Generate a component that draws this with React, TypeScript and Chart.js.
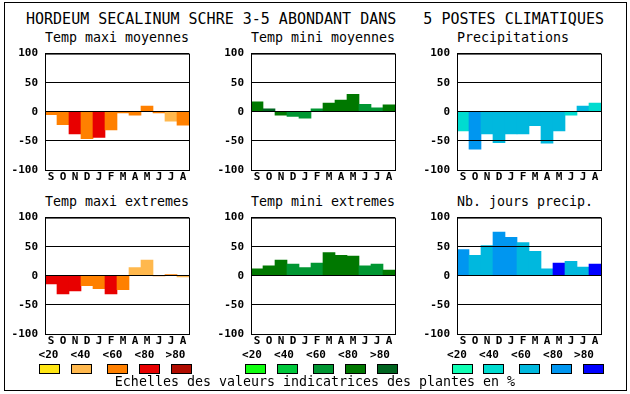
import React, { useEffect, useRef } from 'react';
import { Chart, registerables } from 'chart.js';

Chart.register(...registerables);

// ---------- data ----------
const TITLE = 'HORDEUM SECALINUM SCHRE 3-5 ABONDANT DANS   5 POSTES CLIMATIQUES';
const FOOTER = 'Echelles des valeurs indicatrices des plantes en %';
const MONTHS = ['S', 'O', 'N', 'D', 'J', 'F', 'M', 'A', 'M', 'J', 'J', 'A'];
const Y_TICKS = [-100, -50, 0, 50, 100];
const CLASS_LABELS = ['<20', '<40', '<60', '<80', '>80'];

const RED_SCALE = ['#ffe614', '#ffb84d', '#ff8000', '#e80000', '#b00c00'];
const GREEN_SCALE = ['#10ff10', '#00c83c', '#009632', '#007800', '#006420'];
const BLUE_SCALE = ['#10ffb4', '#00dcd0', '#00b8de', '#0096f0', '#0000ff'];

const TEMP_MAXI_MOY = [-5, -22, -38, -46, -44, -31, -2, -6, 10, -2, -16, -23];
const TEMP_MAXI_MOY_CLASS = [2, 2, 3, 2, 3, 2, 2, 2, 2, 2, 1, 2];

const TEMP_MINI_MOY = [17, 5, -6, -8, -11, 5, 15, 20, 30, 13, 7, 12];
const TEMP_MINI_MOY_CLASS = [3, 4, 3, 2, 2, 2, 3, 3, 3, 2, 2, 3];

const PRECIP = [-33, -64, -38, -53, -38, -38, -24, -54, -33, -6, 10, 15];
const PRECIP_CLASS = [1, 3, 2, 2, 2, 2, 2, 2, 2, 1, 2, 1];

const TEMP_MAXI_EXT = [-14, -31, -26, -17, -22, -31, -24, 14, 27, 0, 2, -2];
const TEMP_MAXI_EXT_CLASS = [3, 3, 3, 2, 2, 3, 2, 1, 1, 2, 2, 1];

const TEMP_MINI_EXT = [12, 17, 27, 20, 14, 22, 40, 35, 34, 17, 20, 10];
const TEMP_MINI_EXT_CLASS = [3, 3, 3, 2, 2, 2, 3, 3, 3, 2, 2, 3];

const NB_JOURS = [45, 35, 52, 75, 66, 57, 42, 12, 22, 25, 15, 20];
const NB_JOURS_CLASS = [3, 2, 2, 3, 3, 2, 2, 2, 4, 2, 2, 4];

// ---------- layout ----------
const MONO = '"DejaVu Sans Mono", monospace';
const PLOT_W = 144;
const PLOT_H = 120;
const AXIS_W = 45;
const PAD_T = 10;
const PAD_R = 10;
const XAX_H = 20;

const framePlugin = {
  id: 'frame',
  afterDraw(chart: any) {
    const { ctx, chartArea } = chart;
    const { left, top, right, bottom } = chartArea;
    ctx.save();
    ctx.strokeStyle = '#000';
    ctx.lineWidth = 1;
    ctx.strokeRect(left + 0.5, top + 0.5, right - left, bottom - top);
    ctx.restore();
  },
};

type PanelProps = {
  title: string;
  values: number[];
  classes: number[];
  palette: string[];
  plotLeft: number;
  plotTop: number;
};

function Panel({ title, values, classes, palette, plotLeft, plotTop }: PanelProps) {
  const ref = useRef<HTMLCanvasElement>(null);
  useEffect(() => {
    const chart = new Chart(ref.current as HTMLCanvasElement, {
      type: 'bar',
      data: {
        labels: MONTHS,
        datasets: [
          {
            data: values,
            backgroundColor: classes.map((c) => palette[c]),
            borderWidth: 0,
            barPercentage: 1,
            categoryPercentage: 1,
          },
        ],
      },
      options: {
        animation: false,
        responsive: false,
        devicePixelRatio: 1,
        layout: { padding: { top: PAD_T, right: PAD_R, left: 0, bottom: 0 } },
        plugins: { legend: { display: false }, tooltip: { enabled: false } },
        scales: {
          x: {
            grid: { display: false, drawTicks: false },
            border: { display: false },
            ticks: {
              color: '#000',
              font: { family: MONO, weight: 'bold', size: 11 },
              padding: 1,
              autoSkip: false,
              maxRotation: 0,
              minRotation: 0,
            },
            afterFit: (s: any) => {
              s.height = XAX_H;
            },
          },
          y: {
            min: -100,
            max: 100,
            afterBuildTicks: (s: any) => {
              s.ticks = Y_TICKS.map((v) => ({ value: v }));
            },
            grid: { color: '#000', lineWidth: 1, drawTicks: false, z: 1 },
            border: { display: false },
            ticks: {
              color: '#000',
              font: { family: MONO, weight: 'bold', size: 11 },
              padding: 7,
            },
            afterFit: (s: any) => {
              s.width = AXIS_W;
            },
          },
        },
      } as any,
      plugins: [framePlugin],
    });
    return () => chart.destroy();
  }, []);
  const cw = AXIS_W + PLOT_W + PAD_R;
  const ch = PAD_T + PLOT_H + XAX_H;
  return (
    <>
      <div
        style={{
          position: 'absolute',
          left: plotLeft,
          top: plotTop - 19.5,
          font: `13.3px ${MONO}`,
          lineHeight: '13.3px',
          whiteSpace: 'pre',
          color: '#000',
        }}
      >
        {title}
      </div>
      <canvas
        ref={ref}
        width={cw}
        height={ch}
        style={{ position: 'absolute', left: plotLeft - AXIS_W, top: plotTop - PAD_T, width: cw, height: ch }}
      />
    </>
  );
}

function Legend({ palette, boxLefts, labelCenters }: { palette: string[]; boxLefts: number[]; labelCenters: number[] }) {
  return (
    <>
      {CLASS_LABELS.map((lab, i) => (
        <div
          key={'l' + i}
          style={{
            position: 'absolute',
            left: labelCenters[i] - 20,
            width: 40,
            textAlign: 'center',
            top: 348.7,
            font: `bold 11px ${MONO}`,
            lineHeight: '11px',
            color: '#000',
            whiteSpace: 'pre',
          }}
        >
          {lab}
        </div>
      ))}
      {palette.map((c, i) => (
        <div
          key={'b' + i}
          style={{
            position: 'absolute',
            left: boxLefts[i],
            top: 364,
            width: 21,
            height: 10,
            boxSizing: 'border-box',
            border: '1px solid #000',
            background: c,
          }}
        />
      ))}
    </>
  );
}

export default function App() {
  return (
    <div
      style={{
        position: 'fixed',
        left: 0,
        top: 0,
        width: 630,
        height: 394,
        background: '#fff',
        overflow: 'hidden',
      }}
    >
      <div
        style={{
          position: 'absolute',
          left: 4,
          top: 2,
          width: 623,
          height: 389,
          boxSizing: 'border-box',
          border: '1px solid #000',
        }}
      />
      <div
        style={{
          position: 'absolute',
          left: 26,
          top: 11.5,
          font: `15px ${MONO}`,
          lineHeight: '15px',
          whiteSpace: 'pre',
          color: '#000',
        }}
      >
        {TITLE}
      </div>
      <Panel title="Temp maxi moyennes" values={TEMP_MAXI_MOY} classes={TEMP_MAXI_MOY_CLASS} palette={RED_SCALE} plotLeft={45} plotTop={50} />
      <Panel title="Temp mini moyennes" values={TEMP_MINI_MOY} classes={TEMP_MINI_MOY_CLASS} palette={GREEN_SCALE} plotLeft={251} plotTop={50} />
      <Panel title="Precipitations" values={PRECIP} classes={PRECIP_CLASS} palette={BLUE_SCALE} plotLeft={457} plotTop={50} />
      <Panel title="Temp maxi extremes" values={TEMP_MAXI_EXT} classes={TEMP_MAXI_EXT_CLASS} palette={RED_SCALE} plotLeft={45} plotTop={214} />
      <Panel title="Temp mini extremes" values={TEMP_MINI_EXT} classes={TEMP_MINI_EXT_CLASS} palette={GREEN_SCALE} plotLeft={251} plotTop={214} />
      <Panel title="Nb. jours precip." values={NB_JOURS} classes={NB_JOURS_CLASS} palette={BLUE_SCALE} plotLeft={457} plotTop={214} />
      <Legend palette={RED_SCALE} boxLefts={[39, 71, 107, 139, 171]} labelCenters={[48.5, 80.5, 112.5, 144.5, 175.5]} />
      <Legend palette={GREEN_SCALE} boxLefts={[245, 277, 313, 345, 377]} labelCenters={[252, 284, 316, 348, 380]} />
      <Legend palette={BLUE_SCALE} boxLefts={[452, 483, 519, 551, 583]} labelCenters={[457, 489, 521, 553, 584]} />
      <div
        style={{
          position: 'absolute',
          left: 0,
          width: 630,
          textAlign: 'center',
          top: 374.75,
          font: `13.3px ${MONO}`,
          lineHeight: '13.3px',
          whiteSpace: 'pre',
          color: '#000',
        }}
      >
        {FOOTER}
      </div>
    </div>
  );
}
